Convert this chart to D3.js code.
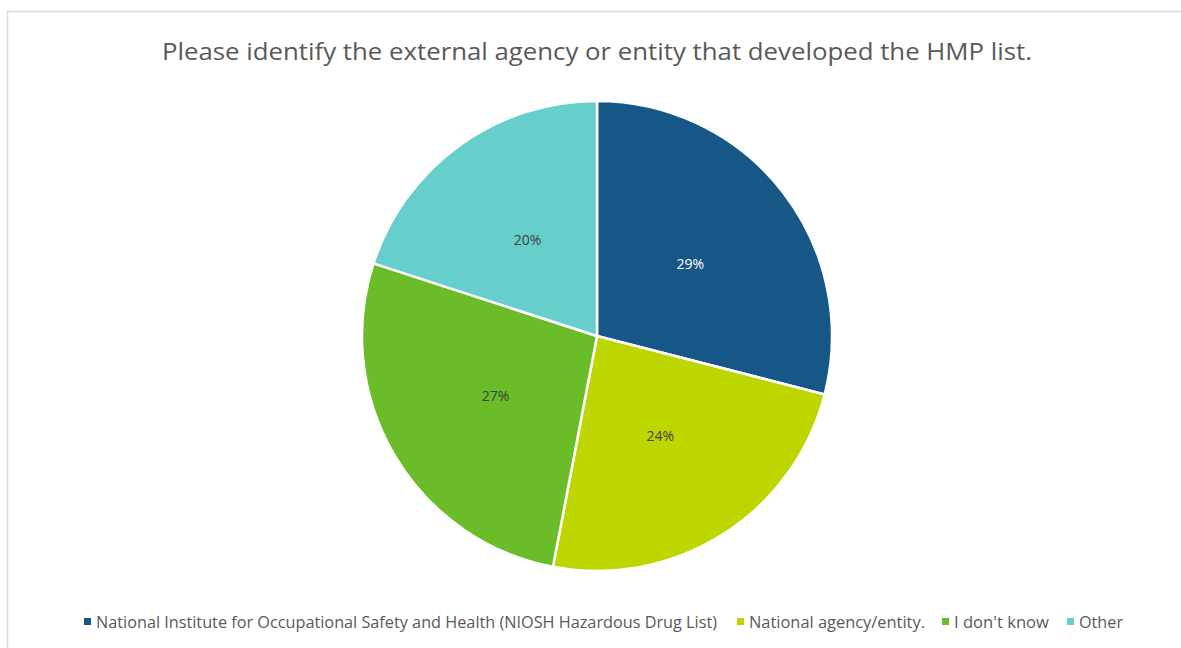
<!DOCTYPE html>
<html>
<head>
<meta charset="utf-8">
<script src="https://cdn.jsdelivr.net/npm/d3@7"></script>
<style>
  html, body { margin: 0; padding: 0; background: #ffffff; }
  svg { display: block; }
</style>
</head>
<body>
<svg id="chart" width="1181" height="648"></svg>
<script>
// Survey answers and their shares (percent)
const categories = [
  "National Institute for Occupational Safety and Health (NIOSH Hazardous Drug List)",
  "National agency/entity.",
  "I don't know",
  "Other"
];
const values = [29, 24, 27, 20];
const colors = ["#175788", "#bdd600", "#6abd28", "#66cfcc"];
const labelColors = ["#ffffff", "#404040", "#404040", "#404040"];
const title = "Please identify the external agency or entity that developed the HMP list.";

const svg = d3.select("#chart");
const W = 1181, H = 648;
const font = "'Open Sans', 'Liberation Sans', sans-serif";

// Chart area frame
svg.append("rect")
  .attr("x", 7.5).attr("y", 11.5)
  .attr("width", W + 10).attr("height", H + 10)
  .attr("fill", "#ffffff")
  .attr("stroke", "#d9d9d9")
  .attr("stroke-width", 1.5);

// Title
svg.append("text")
  .attr("x", 597).attr("y", 60)
  .attr("text-anchor", "middle")
  .attr("font-family", font)
  .attr("font-size", 24)
  .attr("fill", "#595959")
  .attr("textLength", 870)
  .attr("lengthAdjust", "spacingAndGlyphs")
  .text(title);

// Pie
const cx = 597, cy = 336, R = 235;
const data = categories.map((c, i) => ({ name: c, value: values[i], color: colors[i], lc: labelColors[i] }));
const pie = d3.pie().value(d => d.value).sort(null);
const arc = d3.arc().innerRadius(0).outerRadius(R);
const labelArc = d3.arc().innerRadius(118).outerRadius(118);

const g = svg.append("g").attr("transform", `translate(${cx},${cy})`);
const arcs = pie(data);

g.selectAll("path.slice")
  .data(arcs)
  .join("path")
  .attr("class", "slice")
  .attr("d", arc)
  .attr("fill", d => d.data.color)
  .attr("stroke", "#ffffff")
  .attr("stroke-width", 2.5)
  .attr("stroke-linejoin", "round");

g.selectAll("text.pct")
  .data(arcs)
  .join("text")
  .attr("class", "pct")
  .attr("transform", d => `translate(${labelArc.centroid(d)})`)
  .attr("text-anchor", "middle")
  .attr("dy", "0.35em")
  .attr("font-family", font)
  .attr("font-size", 14)
  .attr("fill", d => d.data.lc)
  .text(d => d3.format(".0%")(d.data.value / 100));

// Legend
const legendY = 622;
const legendX = [84, 737, 942, 1067];
const legendTextW = [621, 176, 95, 44];
const legend = svg.append("g");
data.forEach((d, i) => {
  legend.append("rect")
    .attr("x", legendX[i]).attr("y", legendY - 4)
    .attr("width", 7).attr("height", 7)
    .attr("fill", d.color);
  legend.append("text")
    .attr("x", legendX[i] + 12).attr("y", legendY)
    .attr("dy", "0.35em")
    .attr("font-family", font)
    .attr("font-size", 16)
    .attr("fill", "#595959")
    .attr("textLength", legendTextW[i])
    .attr("lengthAdjust", "spacingAndGlyphs")
    .text(d.name);
});
</script>
</body>
</html>
